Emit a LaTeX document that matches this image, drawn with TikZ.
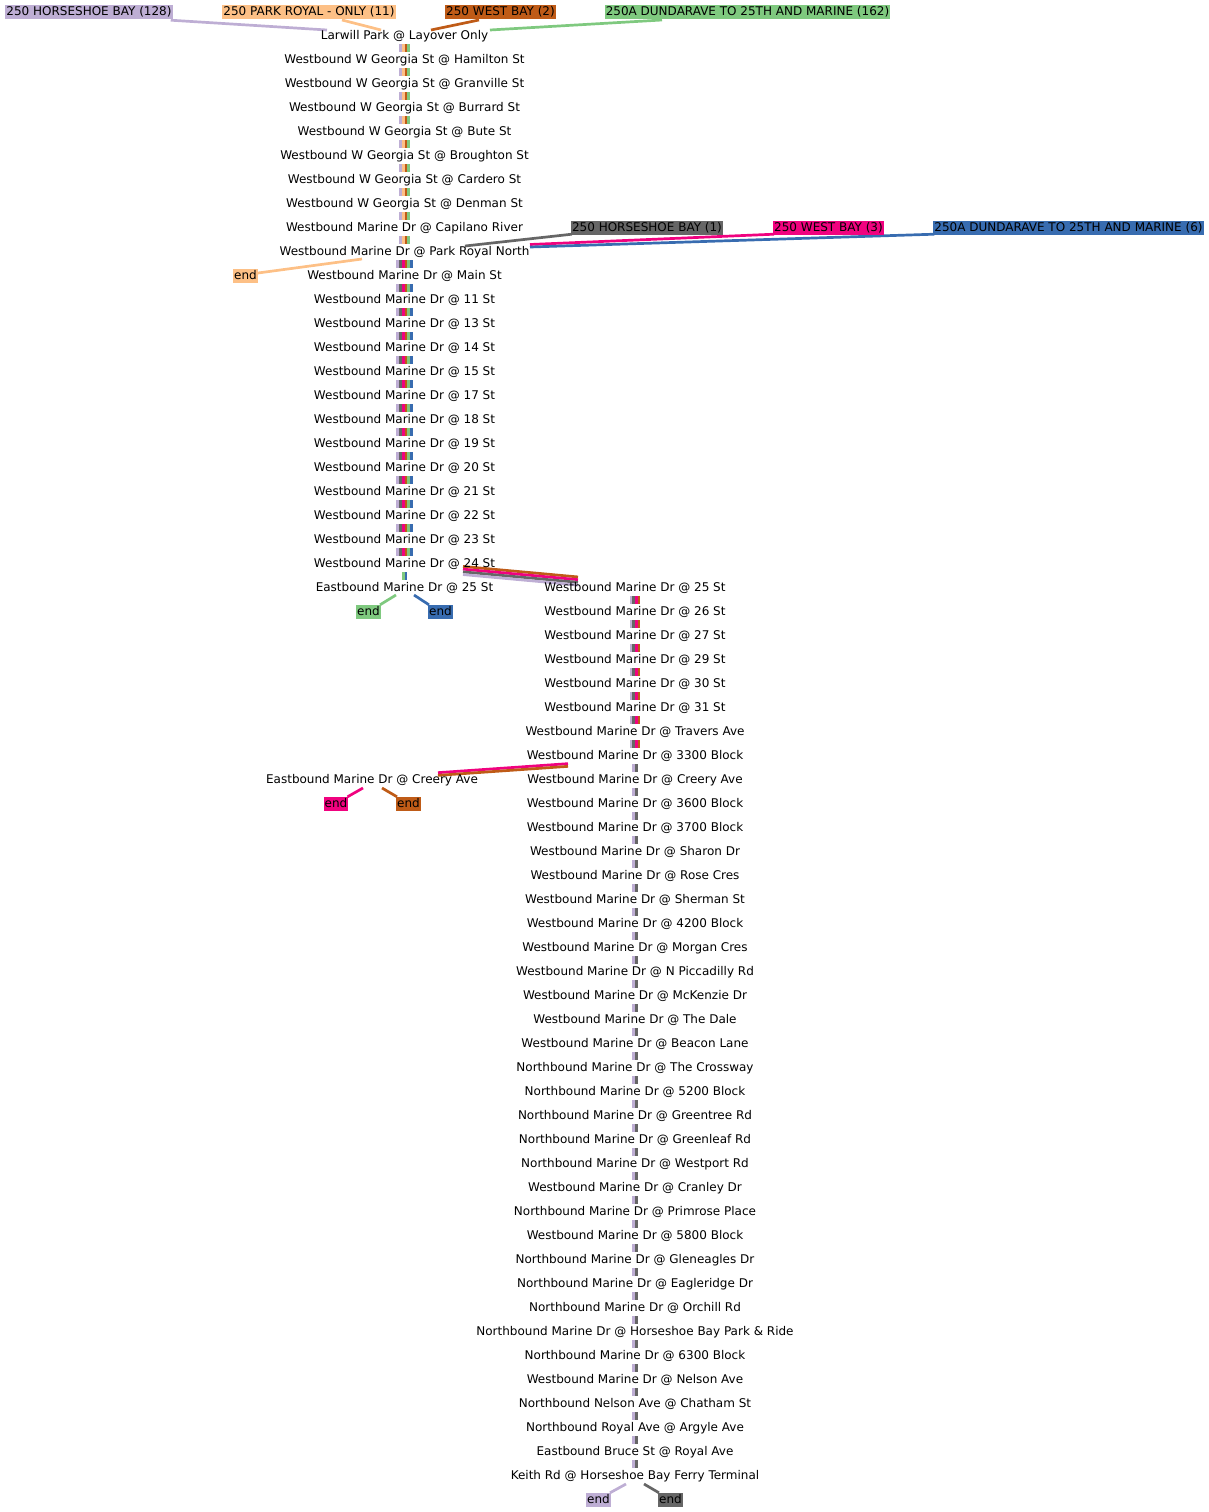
\documentclass[tikz,border=0pt]{standalone}
\usepackage{fontspec}
\setmainfont{DejaVu Sans}
\usetikzlibrary{calc}
\definecolor{cLav}{HTML}{BEAED4}
\definecolor{cPea}{HTML}{FDC086}
\definecolor{cBro}{HTML}{BF5B17}
\definecolor{cGre}{HTML}{7FC97F}
\definecolor{cGry}{HTML}{666666}
\definecolor{cMag}{HTML}{F0027F}
\definecolor{cBlu}{HTML}{386CB0}
\pgfdeclarelayer{bg}
\pgfsetlayers{bg,main}
\begin{document}
\begin{tikzpicture}[x=1pt,y=-1pt,
  stop/.style={inner sep=0pt, minimum height=16pt, text height=10.5pt, text depth=3pt, font=\fontsize{12}{14}\selectfont},
  rlabel/.style={inner xsep=1pt, inner ysep=0.5pt, text height=10.2pt, text depth=2.8pt, font=\fontsize{12}{14}\selectfont},
  route/.style={line width=2.7pt}]
\useasboundingbox (0,-1) rectangle (1209,1511);

% column A stops
\foreach \n [count=\i] in {Larwill Park @ Layover Only,
 Westbound W Georgia St @ Hamilton St,
 Westbound W Georgia St @ Granville St,
 Westbound W Georgia St @ Burrard St,
 Westbound W Georgia St @ Bute St,
 Westbound W Georgia St @ Broughton St,
 Westbound W Georgia St @ Cardero St,
 Westbound W Georgia St @ Denman St,
 Westbound Marine Dr @ Capilano River,
 Westbound Marine Dr @ Park Royal North,
 Westbound Marine Dr @ Main St,
 Westbound Marine Dr @ 11 St,
 Westbound Marine Dr @ 13 St,
 Westbound Marine Dr @ 14 St,
 Westbound Marine Dr @ 15 St,
 Westbound Marine Dr @ 17 St,
 Westbound Marine Dr @ 18 St,
 Westbound Marine Dr @ 19 St,
 Westbound Marine Dr @ 20 St,
 Westbound Marine Dr @ 21 St,
 Westbound Marine Dr @ 22 St,
 Westbound Marine Dr @ 23 St,
 Westbound Marine Dr @ 24 St,
 Eastbound Marine Dr @ 25 St}
 \node[stop] (a\i) at (404.5,{11+24*\i}) {\n};

% column B stops
\foreach \n [count=\i] in {Westbound Marine Dr @ 25 St,
 Westbound Marine Dr @ 26 St,
 Westbound Marine Dr @ 27 St,
 Westbound Marine Dr @ 29 St,
 Westbound Marine Dr @ 30 St,
 Westbound Marine Dr @ 31 St,
 Westbound Marine Dr @ Travers Ave,
 Westbound Marine Dr @ 3300 Block,
 Westbound Marine Dr @ Creery Ave,
 Westbound Marine Dr @ 3600 Block,
 Westbound Marine Dr @ 3700 Block,
 Westbound Marine Dr @ Sharon Dr,
 Westbound Marine Dr @ Rose Cres,
 Westbound Marine Dr @ Sherman St,
 Westbound Marine Dr @ 4200 Block,
 Westbound Marine Dr @ Morgan Cres,
 Westbound Marine Dr @ N Piccadilly Rd,
 Westbound Marine Dr @ McKenzie Dr,
 Westbound Marine Dr @ The Dale,
 Westbound Marine Dr @ Beacon Lane,
 Northbound Marine Dr @ The Crossway,
 Northbound Marine Dr @ 5200 Block,
 Northbound Marine Dr @ Greentree Rd,
 Northbound Marine Dr @ Greenleaf Rd,
 Northbound Marine Dr @ Westport Rd,
 Westbound Marine Dr @ Cranley Dr,
 Northbound Marine Dr @ Primrose Place,
 Westbound Marine Dr @ 5800 Block,
 Northbound Marine Dr @ Gleneagles Dr,
 Northbound Marine Dr @ Eagleridge Dr,
 Northbound Marine Dr @ Orchill Rd,
 Northbound Marine Dr @ Horseshoe Bay Park \& Ride,
 Northbound Marine Dr @ 6300 Block,
 Westbound Marine Dr @ Nelson Ave,
 Northbound Nelson Ave @ Chatham St,
 Northbound Royal Ave @ Argyle Ave,
 Eastbound Bruce St @ Royal Ave,
 Keith Rd @ Horseshoe Bay Ferry Terminal}
 \node[stop] (b\i) at (635,{563+24*\i}) {\n};

\node[stop] (cE) at (372,779) {Eastbound Marine Dr @ Creery Ave};

% route labels
\node[rlabel,fill=cLav] (hb128) at (89,11) {250 HORSESHOE BAY (128)};
\node[rlabel,fill=cPea] (pk11) at (309,11) {250 PARK ROYAL - ONLY (11)};
\node[rlabel,fill=cBro] (wb2) at (500.5,11) {250 WEST BAY (2)};
\node[rlabel,fill=cGre] (d162) at (747.5,11) {250A DUNDARAVE TO 25TH AND MARINE (162)};
\node[rlabel,fill=cGry] (hb1) at (647,227) {250 HORSESHOE BAY (1)};
\node[rlabel,fill=cMag] (wb3) at (828.5,227) {250 WEST BAY (3)};
\node[rlabel,fill=cBlu] (d6) at (1068.5,227) {250A DUNDARAVE TO 25TH AND MARINE (6)};

% end labels
\node[rlabel,fill=cPea] (ePea) at (245.5,275) {end};
\node[rlabel,fill=cGre] (eGre) at (368.5,611) {end};
\node[rlabel,fill=cBlu] (eBlu) at (440.5,611) {end};
\node[rlabel,fill=cMag] (eMag) at (336,803) {end};
\node[rlabel,fill=cBro] (eBro) at (408.5,803) {end};
\node[rlabel,fill=cLav] (eLav) at (598.5,1499) {end};
\node[rlabel,fill=cGry] (eGry) at (670.5,1499) {end};

\begin{pgfonlayer}{bg}
% column A vertical segments
\foreach \i in {1,...,9} {
  \pgfmathtruncatemacro\j{\i+1}
  \foreach \o/\c in {-4.05/cLav,-1.35/cPea,1.35/cBro,4.05/cGre}
    \draw[route,\c] ([xshift=\o pt]a\i.south) -- ([xshift=\o pt]a\j.north);
}
\foreach \i in {10,...,22} {
  \pgfmathtruncatemacro\j{\i+1}
  \foreach \o/\c in {-6.75/cLav,-4.05/cGry,-1.35/cMag,1.35/cBro,4.05/cGre,6.75/cBlu}
    \draw[route,\c] ([xshift=\o pt]a\i.south) -- ([xshift=\o pt]a\j.north);
}
\foreach \o/\c in {-1.35/cGre,1.35/cBlu}
  \draw[route,\c] ([xshift=\o pt]a23.south) -- ([xshift=\o pt]a24.north);

% column B vertical segments
\foreach \i in {1,...,7} {
  \pgfmathtruncatemacro\j{\i+1}
  \foreach \o/\c in {-4.05/cLav,-1.35/cGry,1.35/cMag,4.05/cBro}
    \draw[route,\c] ([xshift=\o pt]b\i.south) -- ([xshift=\o pt]b\j.north);
}
\foreach \i in {8,...,37} {
  \pgfmathtruncatemacro\j{\i+1}
  \foreach \o/\c in {-1.35/cLav,1.35/cGry}
    \draw[route,\c] ([xshift=\o pt]b\i.south) -- ([xshift=\o pt]b\j.north);
}

% top label connectors
\draw[route,cLav] ($(hb128.south east)+(-2,1)$) -- ($(a1)+(-77.5,-6)$);
\draw[route,cPea] ($(pk11)+(33,8)$) -- ($(a1)+(-23.5,-6)$);
\draw[route,cBro] ($(wb2)+(-21.5,8)$) -- ($(a1)+(26.5,-6)$);
\draw[route,cGre] ($(d162)+(-85.5,8)$) -- ($(a1)+(85.5,-6)$);

% Park Royal North connectors
\draw[route,cGry] ($(a10)+(60.5,-6)$) -- ($(hb1.south west)+(1,-1)$);
\draw[route,cMag] ($(a10)+(125.5,-7.5)$) -- ($(wb3.south west)+(1,-1)$);
\draw[route,cBlu] ($(a10)+(125.5,-5)$) -- ($(d6.south west)+(1,-1)$);
\draw[route,cPea] ($(a10)+(-42.5,7)$) -- ($(ePea.east)+(0,-3)$);

% 24 St -> Westbound 25 St bundle
\foreach \o/\c in {-4.05/cBro,-1.35/cMag,1.35/cGry,4.05/cLav}
  \draw[route,\c] ($(a23)+(58.5,{6.5+\o})$) -- ($(b1)+(-57,{-7+\o})$);

% Eastbound 25 St ends
\draw[route,cGre] ($(a24)+(-8.5,7)$) -- ($(eGre.north east)+(-1,0)$);
\draw[route,cBlu] ($(a24)+(9.5,7)$) -- ($(eBlu.north west)+(1,0)$);

% 3300 Block -> Eastbound Creery bundle
\foreach \o/\c in {-1.35/cMag,1.35/cBro}
  \draw[route,\c] ($(b8)+(-67,{9+\o})$) -- ($(cE)+(66,{-6+\o})$);

% Creery ends
\draw[route,cMag] ($(cE)+(-9,8)$) -- ($(eMag.north east)+(-1,0)$);
\draw[route,cBro] ($(cE)+(10,8)$) -- ($(eBro.north west)+(1,0)$);

% Ferry terminal ends
\draw[route,cLav] ($(b38)+(-9,8)$) -- ($(eLav.north east)+(-1,0)$);
\draw[route,cGry] ($(b38)+(9,8)$) -- ($(eGry.north west)+(1,0)$);
\end{pgfonlayer}
\end{tikzpicture}
\end{document}
